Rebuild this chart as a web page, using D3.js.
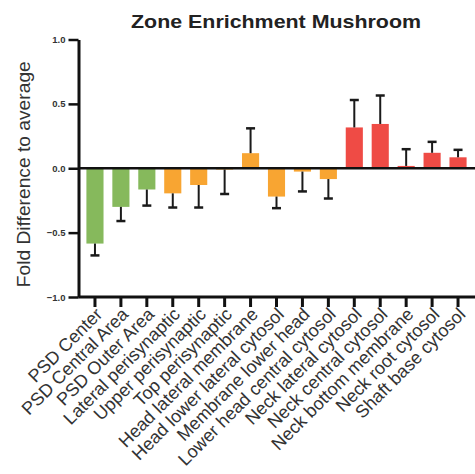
<!DOCTYPE html>
<html>
<head>
<meta charset="utf-8">
<script src="https://cdn.jsdelivr.net/npm/d3@7"></script>
<style>
  html, body { margin: 0; padding: 0; background: #fff; }
  svg { display: block; font-family: "Liberation Sans", Arial, Helvetica, sans-serif; }
</style>
</head>
<body>
<svg id="chart" width="475" height="474"></svg>
<script>
// Zones along the spine, from the PSD down to the shaft
const categories = [
  "PSD Center", "PSD Central Area", "PSD Outer Area",
  "Lateral perisynaptic", "Upper perisynaptic", "Top perisynaptic",
  "Head lateral membrane", "Head lower lateral cytosol", "Membrane lower head",
  "Lower head central cytosol",
  "Neck lateral cytosol", "Neck central cytosol", "Neck bottom membrane",
  "Neck root cytosol", "Shaft base cytosol"
];
// Mean fold difference to average per zone
const values = [
  -0.585, -0.30, -0.165,
  -0.195, -0.13, -0.01,
  0.117, -0.22, -0.026, -0.084,
  0.317, 0.344, 0.018, 0.12, 0.085
];
// Error (one-sided, drawn away from zero)
const errors = [
  0.092, 0.11, 0.125,
  0.11, 0.175, 0.19,
  0.193, 0.09, 0.154, 0.151,
  0.213, 0.221, 0.13, 0.085, 0.058
];
// Region group of each zone: PSD, head, neck
const groups = [
  "psd", "psd", "psd",
  "head", "head", "head", "head", "head", "head", "head",
  "neck", "neck", "neck", "neck", "neck"
];
const yTicks = [-1.0, -0.5, 0.0, 0.5, 1.0];

const groupColor = { psd: "#86b95c", head: "#f8a532", neck: "#ef4b45" };

const svg = d3.select("#chart");

const x = d3.scaleBand()
  .domain(categories)
  .range([82, 471])
  .paddingInner(0.34)
  .paddingOuter(0.17);

const y = d3.scaleLinear()
  .domain([-1, 1])
  .range([297, 39.5]);

const axisX = 78.5;

// Title
svg.append("text")
  .attr("x", 276)
  .attr("y", 28)
  .attr("text-anchor", "middle")
  .attr("font-weight", "bold")
  .attr("font-size", 19)
  .attr("textLength", 290)
  .attr("lengthAdjust", "spacingAndGlyphs")
  .attr("fill", "#222")
  .text("Zone Enrichment Mushroom");

// Y axis title
svg.append("text")
  .attr("transform", `translate(30, ${(y(1) + y(-1)) / 2 + 6}) rotate(-90)`)
  .attr("text-anchor", "middle")
  .attr("font-size", 18)
  .attr("textLength", 226)
  .attr("lengthAdjust", "spacingAndGlyphs")
  .attr("fill", "#333")
  .text("Fold Difference to average");

// Bars
const idx = d3.range(categories.length);
svg.append("g")
  .selectAll("rect")
  .data(idx)
  .join("rect")
  .attr("x", i => x(categories[i]))
  .attr("width", x.bandwidth())
  .attr("y", i => y(Math.max(0, values[i])))
  .attr("height", i => Math.abs(y(values[i]) - y(0)))
  .attr("fill", i => groupColor[groups[i]]);

// Error bars
const eb = svg.append("g")
  .attr("stroke", "#1a1a1a")
  .attr("fill", "none");
idx.forEach(i => {
  const cx = x(categories[i]) + x.bandwidth() / 2;
  const end = values[i] + (values[i] < 0 ? -errors[i] : errors[i]);
  eb.append("line")
    .attr("x1", cx).attr("x2", cx)
    .attr("y1", y(values[i])).attr("y2", y(end))
    .attr("stroke-width", 2);
  eb.append("line")
    .attr("x1", cx - 4.5).attr("x2", cx + 4.5)
    .attr("y1", y(end)).attr("y2", y(end))
    .attr("stroke-width", 2.5);
});

// Zero line
svg.append("line")
  .attr("x1", axisX).attr("x2", 475)
  .attr("y1", y(0)).attr("y2", y(0))
  .attr("stroke", "#111")
  .attr("stroke-width", 2.5);

// Y axis
const yAxis = svg.append("g")
  .attr("transform", `translate(${axisX},0)`)
  .call(d3.axisLeft(y)
    .tickValues(yTicks)
    .tickFormat(d3.format(".1f"))
    .tickSize(10)
    .tickSizeOuter(0)
    .tickPadding(3));
yAxis.select(".domain").attr("stroke", "#111").attr("stroke-width", 3);
yAxis.selectAll(".tick line").attr("stroke", "#111").attr("stroke-width", 2.5);
yAxis.selectAll(".tick text")
  .attr("font-size", 9.5)
  .attr("font-weight", "bold")
  .attr("fill", "#333")
  .attr("font-family", "'Liberation Sans', Arial, sans-serif");

// X axis at the bottom
const xAxis = svg.append("g")
  .attr("transform", `translate(0,${y(-1)})`)
  .call(d3.axisBottom(x).tickSize(10).tickSizeOuter(0));
xAxis.select(".domain")
  .attr("d", `M${axisX},0H475`)
  .attr("stroke", "#111").attr("stroke-width", 3);
xAxis.selectAll(".tick line").attr("stroke", "#111").attr("stroke-width", 3);
xAxis.selectAll(".tick text")
  .attr("font-size", 18)
  .attr("fill", "#333")
  .attr("font-family", "'Liberation Sans', Arial, sans-serif")
  .attr("text-anchor", "end")
  .attr("transform", "translate(4,14) rotate(-45)")
  .attr("y", 0)
  .attr("dy", "0.35em");
</script>
</body>
</html>
